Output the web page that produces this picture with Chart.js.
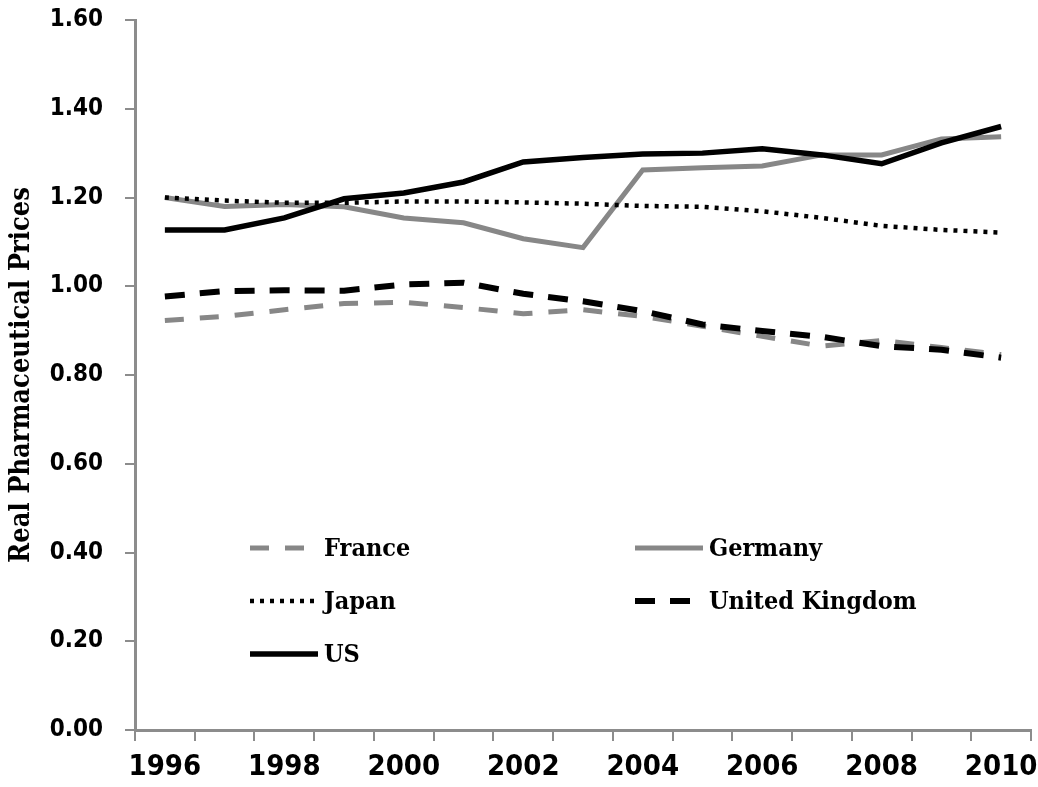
<!DOCTYPE html>
<html>
<head>
<meta charset="utf-8">
<script src="https://cdn.jsdelivr.net/npm/chart.js@4.4.0/dist/chart.umd.min.js"></script>
<style>
html, body { margin: 0; padding: 0; background: #fff; }
</style>
</head>
<body>
<canvas id="priceChart" width="1038" height="787"></canvas>
<script>
const years = ['1996', '1997', '1998', '1999', '2000', '2001', '2002', '2003',
    '2004', '2005', '2006', '2007', '2008', '2009', '2010'];
const france = [0.923, 0.932, 0.947, 0.961, 0.964, 0.952, 0.938, 0.947, 0.932, 0.910, 0.887, 0.865, 0.878, 0.862, 0.846];
const germany = [1.200, 1.180, 1.184, 1.179, 1.154, 1.143, 1.107, 1.087, 1.262, 1.267, 1.271, 1.296, 1.296, 1.332, 1.337];
const japan = [1.200, 1.193, 1.188, 1.188, 1.191, 1.191, 1.189, 1.186, 1.181, 1.179, 1.169, 1.154, 1.136, 1.127, 1.121];
const uk = [0.977, 0.989, 0.991, 0.990, 1.004, 1.008, 0.983, 0.966, 0.944, 0.914, 0.899, 0.886, 0.865, 0.857, 0.839];
const us = [1.127, 1.127, 1.154, 1.197, 1.210, 1.235, 1.280, 1.290, 1.298, 1.300, 1.310, 1.296, 1.276, 1.323, 1.360];
const yTicks = [0, 0.2, 0.4, 0.6, 0.8, 1.0, 1.2, 1.4, 1.6];

const GREY = '#878787';
const AXIS = '#8c8c8c';
const tickFont = "'DejaVu Sans Condensed', 'DejaVu Sans', sans-serif";
const serifFont = "'DejaVu Serif Condensed', 'DejaVu Serif', serif";

// legend drawn inside the plot, two columns like the original
const insideLegend = {
    id: 'insideLegend',
    afterDraw(chart) {
        const ctx = chart.ctx;
        const cols = [250, 635];
        const rows = [548, 601, 654];
        const sampleLen = 68;
        ctx.save();
        ctx.font = 'bold 25px ' + serifFont;
        ctx.textBaseline = 'middle';
        ctx.fillStyle = '#000';
        chart.data.datasets.forEach((ds, i) => {
            const x = cols[i % 2];
            const y = rows[Math.floor(i / 2)];
            ctx.beginPath();
            ctx.strokeStyle = ds.borderColor;
            ctx.lineWidth = ds.borderWidth;
            ctx.setLineDash(ds.borderDash || []);
            ctx.moveTo(x, y);
            ctx.lineTo(x + sampleLen, y);
            ctx.stroke();
            ctx.setLineDash([]);
            ctx.fillText(ds.label, x + sampleLen + 6, y + 1);
        });
        ctx.restore();
    }
};

const chartConfig = {
    type: 'line',
    data: {
        labels: years,
        datasets: [
            { label: 'France', data: france, borderColor: GREY, borderWidth: 5, borderDash: [19, 16], order: 5 },
            { label: 'Germany', data: germany, borderColor: GREY, borderWidth: 5, order: 4 },
            { label: 'Japan', data: japan, borderColor: '#000', borderWidth: 4.5, borderDash: [4, 6], order: 3 },
            { label: 'United Kingdom', data: uk, borderColor: '#000', borderWidth: 6, borderDash: [20, 15], order: 2 },
            { label: 'US', data: us, borderColor: '#000', borderWidth: 5.5, order: 1 }
        ]
    },
    options: {
        responsive: false,
        animation: false,
        layout: { padding: { top: 20, right: 7, left: 0, bottom: 0 } },
        elements: {
            point: { radius: 0 },
            line: { tension: 0, fill: false }
        },
        plugins: {
            legend: { display: false },
            tooltip: { enabled: false }
        },
        scales: {
            x: {
                offset: true,
                grid: {
                    offset: true,
                    drawOnChartArea: false,
                    drawTicks: true,
                    tickLength: 11,
                    color: AXIS,
                    lineWidth: 2
                },
                border: { color: AXIS, width: 3 },
                ticks: {
                    autoSkip: false,
                    maxRotation: 0,
                    padding: 9,
                    color: '#000',
                    font: { family: tickFont, size: 29, weight: 'bold' },
                    callback: (v, i) => (i % 2 === 0 ? years[i] : '')
                },
                afterFit: s => {
                    s.height = 57;
                    s.paddingLeft = 0;
                    s.paddingRight = 0;
                }
            },
            y: {
                min: 0,
                max: 1.6,
                afterBuildTicks: s => { s.ticks = yTicks.map(v => ({ value: v })); },
                grid: {
                    drawOnChartArea: false,
                    drawTicks: true,
                    tickLength: 10,
                    color: AXIS,
                    lineWidth: 2
                },
                border: { color: AXIS, width: 3 },
                ticks: {
                    padding: 22,
                    color: '#000',
                    font: { family: tickFont, size: 24, weight: 'bold' },
                    callback: v => v.toFixed(2)
                },
                title: {
                    display: true,
                    text: 'Real Pharmaceutical Prices',
                    color: '#000',
                    font: { family: serifFont, size: 27, weight: 'bold' },
                    padding: { top: 6, bottom: 0 }
                },
                afterFit: s => {
                    s.width = 135;
                    s.paddingTop = 0;
                    s.paddingBottom = 0;
                }
            }
        }
    },
    plugins: [insideLegend]
};

function initializeChart() {
    const canvas = document.getElementById('priceChart');
    new Chart(canvas.getContext('2d'), chartConfig);
}

initializeChart();
</script>
</body>
</html>
